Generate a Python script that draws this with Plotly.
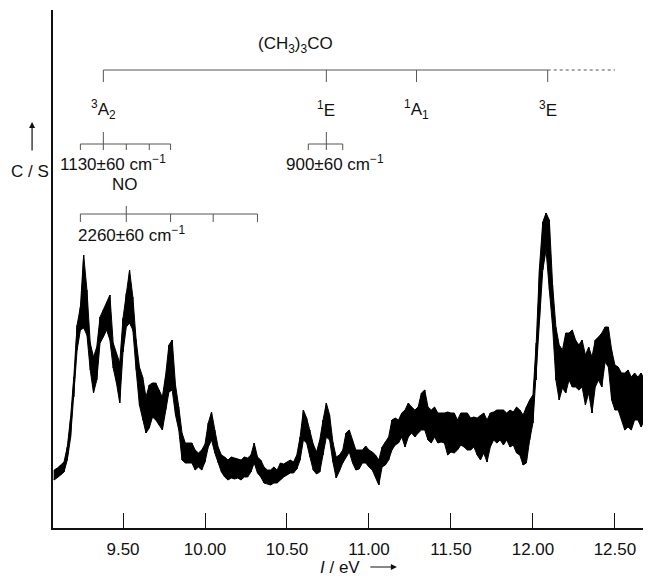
import plotly.graph_objects as go

# photoelectron spectrum (arbitrary count units)
ENERGY_EV = [
    9.08, 9.10, 9.12, 9.14, 9.16, 9.18, 9.20, 9.22, 9.24, 9.26,
    9.28, 9.30, 9.32, 9.34, 9.36, 9.38, 9.40, 9.42, 9.44, 9.46,
    9.48, 9.50, 9.52, 9.54, 9.56, 9.58, 9.60, 9.62, 9.64, 9.66,
    9.68, 9.70, 9.72, 9.74, 9.76, 9.78, 9.80, 9.82, 9.84, 9.86,
    9.88, 9.90, 9.92, 9.94, 9.96, 9.98, 10.00, 10.02, 10.04, 10.06,
    10.08, 10.10, 10.12, 10.14, 10.16, 10.18, 10.20, 10.22, 10.24, 10.26,
    10.28, 10.30, 10.32, 10.34, 10.36, 10.38, 10.40, 10.42, 10.44, 10.46,
    10.48, 10.50, 10.52, 10.54, 10.56, 10.58, 10.60, 10.62, 10.64, 10.66,
    10.68, 10.70, 10.72, 10.74, 10.76, 10.78, 10.80, 10.82, 10.84, 10.86,
    10.88, 10.90, 10.92, 10.94, 10.96, 10.98, 11.00, 11.02, 11.04, 11.06,
    11.08, 11.10, 11.12, 11.14, 11.16, 11.18, 11.20, 11.22, 11.24, 11.26,
    11.28, 11.30, 11.32, 11.34, 11.36, 11.38, 11.40, 11.42, 11.44, 11.46,
    11.48, 11.50, 11.52, 11.54, 11.56, 11.58, 11.60, 11.62, 11.64, 11.66,
    11.68, 11.70, 11.72, 11.74, 11.76, 11.78, 11.80, 11.82, 11.84, 11.86,
    11.88, 11.90, 11.92, 11.94, 11.96, 11.98, 12.00, 12.02, 12.04, 12.06,
    12.08, 12.10, 12.12, 12.14, 12.16, 12.18, 12.20, 12.22, 12.24, 12.26,
    12.28, 12.30, 12.32, 12.34, 12.36, 12.38, 12.40, 12.42, 12.44, 12.46,
    12.48, 12.50, 12.52, 12.54, 12.56, 12.58, 12.60, 12.62, 12.64, 12.66,
    12.68, 12.70, 12.72,
]
# top and bottom of the noise band at each energy
COUNTS_HIGH = [
    58, 60, 63, 66, 81, 110, 151, 203, 221, 273,
    238, 185, 171, 181, 211, 218, 225, 233, 185, 175,
    165, 210, 235, 258, 231, 188, 161, 151, 131, 143,
    145, 145, 138, 131, 153, 183, 188, 143, 121, 95,
    85, 85, 85, 78, 75, 78, 84, 105, 116, 98,
    81, 73, 71, 68, 71, 70, 69, 68, 71, 70,
    73, 85, 71, 68, 61, 58, 58, 61, 58, 65,
    64, 66, 68, 66, 73, 91, 118, 110, 98, 84,
    76, 88, 108, 125, 113, 86, 71, 73, 78, 95,
    98, 88, 78, 78, 78, 82, 78, 76, 73, 68,
    81, 86, 91, 108, 110, 108, 115, 118, 125, 121,
    118, 121, 135, 138, 121, 118, 121, 115, 115, 115,
    116, 115, 115, 108, 115, 115, 115, 110, 111, 110,
    113, 115, 108, 115, 116, 118, 118, 118, 115, 118,
    116, 121, 118, 113, 121, 128, 133, 185, 261, 306,
    315, 308, 243, 201, 183, 178, 195, 195, 198, 188,
    183, 188, 173, 181, 171, 188, 191, 195, 201, 201,
    178, 163, 161, 155, 155, 158, 151, 155, 151, 155,
    148, 151, 155,
]
COUNTS_LOW = [
    48, 50, 53, 56, 68, 90, 131, 178, 198, 200,
    193, 158, 135, 148, 185, 191, 198, 188, 160, 145,
    125, 176, 201, 205, 198, 158, 123, 108, 95, 100,
    111, 108, 103, 98, 118, 136, 138, 113, 98, 68,
    65, 65, 65, 58, 61, 58, 66, 81, 88, 75,
    65, 56, 51, 48, 50, 49, 50, 48, 51, 51,
    56, 65, 55, 51, 45, 44, 43, 45, 45, 48,
    51, 53, 55, 55, 59, 68, 88, 85, 71, 58,
    54, 56, 73, 91, 88, 66, 50, 57, 65, 71,
    76, 65, 58, 59, 65, 65, 61, 58, 51, 43,
    61, 63, 68, 78, 83, 85, 91, 81, 91, 95,
    91, 95, 98, 98, 88, 85, 91, 85, 86, 85,
    73, 76, 75, 78, 83, 81, 78, 78, 81, 73,
    68, 75, 66, 81, 88, 85, 88, 83, 88, 81,
    83, 75, 73, 63, 65, 88, 105, 148, 208, 258,
    278, 238, 201, 148, 128, 140, 135, 148, 141, 141,
    138, 141, 123, 135, 115, 141, 148, 141, 166, 161,
    128, 118, 118, 108, 98, 101, 98, 108, 108, 101,
    108, 108, 111,
]

TICK_EV = [9.5, 10.0, 10.5, 11.0, 11.5, 12.0, 12.5]
TICK_TEXT = ["9.50", "10.00", "10.50", "11.00", "11.50", "12.00", "12.50"]

# (CH3)3CO+ states
STATE_EV = [9.38, 10.74, 11.29, 12.09]
STATE_LABELS = ["<sup>3</sup>A<sub>2</sub>", "<sup>1</sup>E",
                "<sup>1</sup>A<sub>1</sub>", "<sup>3</sup>E"]
STATE_END_EV = 12.50

# vibrational progressions
PROG_1130_EV = [9.24, 9.38, 9.52, 9.66, 9.79]
PROG_900_EV = [10.63, 10.74, 10.84]
PROG_NO_EV = [9.24, 9.52, 9.79, 10.05, 10.32]

FONT = "Liberation Sans, Arial, sans-serif"
INK = "#111111"
GREY = "#555555"
LABEL_SIZE = 17

fig = go.Figure()

# solid noise band, then a zigzag over it for the jagged edge
fig.add_trace(go.Scatter(x=ENERGY_EV + ENERGY_EV[::-1],
                         y=COUNTS_HIGH + COUNTS_LOW[::-1],
                         mode="lines", fill="toself", fillcolor="black",
                         line=dict(color="black", width=1),
                         showlegend=False, hoverinfo="skip"))
xs, ys = [], []
for e, hi, lo in zip(ENERGY_EV, COUNTS_HIGH, COUNTS_LOW):
    xs += [e, e]
    ys += [hi, lo]
fig.add_trace(go.Scatter(x=xs, y=ys, mode="lines",
                         line=dict(color="black", width=1),
                         showlegend=False, hoverinfo="skip"))


def hline(x0, x1, y, dash="solid"):
    fig.add_shape(type="line", x0=x0, x1=x1, y0=y, y1=y, xref="x", yref="y",
                  line=dict(color=GREY, width=1, dash=dash))


def vline(x, y0, y1):
    fig.add_shape(type="line", x0=x, x1=x, y0=y0, y1=y1, xref="x", yref="y",
                  line=dict(color=GREY, width=1))


def label(x, y, text, anchor="center", size=LABEL_SIZE):
    fig.add_annotation(x=x, y=y, text=text, showarrow=False, xref="x", yref="y",
                       xanchor=anchor, yanchor="middle",
                       font=dict(family=FONT, size=size, color=INK))


# radical bracket
hline(STATE_EV[0], STATE_EV[-1], 458)
hline(STATE_EV[-1], STATE_END_EV, 458, dash="dot")
for e, t in zip(STATE_EV, STATE_LABELS):
    vline(e, 458, 446)
    label(e, 419, t)
label(10.55, 483, "(CH<sub>3</sub>)<sub>3</sub>CO")

# 1130 cm-1 progression
hline(PROG_1130_EV[0], PROG_1130_EV[-1], 384)
for i, e in enumerate(PROG_1130_EV):
    vline(e, 378, 396 if i == 1 else 384)
label(9.44, 365, "1130±60 cm<sup>−1</sup>")

# 900 cm-1 progression
hline(PROG_900_EV[0], PROG_900_EV[-1], 384)
for i, e in enumerate(PROG_900_EV):
    vline(e, 378, 396 if i == 1 else 384)
label(10.79, 365, "900±60 cm<sup>−1</sup>")

# NO progression
label(9.51, 344, "NO")
hline(PROG_NO_EV[0], PROG_NO_EV[-1], 314)
for i, e in enumerate(PROG_NO_EV):
    vline(e, 306, 322 if i == 1 else 314)
label(9.55, 294, "2260±60 cm<sup>−1</sup>")

# axis titles with arrows
fig.add_annotation(x=10.957, y=-0.0753, xref="x", yref="paper",
                   text="<i>I</i> / eV", showarrow=False,
                   xanchor="right", yanchor="middle",
                   font=dict(family=FONT, size=LABEL_SIZE, color=INK))
fig.add_annotation(x=11.17, y=-0.0753, xref="x", yref="paper", ax=-28, ay=0,
                   text="", showarrow=True, arrowhead=2, arrowsize=1,
                   arrowwidth=1.2, arrowcolor=INK)
fig.add_annotation(x=-0.038, y=357, xref="paper", yref="y", text="C / S",
                   xanchor="center", yanchor="middle", showarrow=False,
                   font=dict(family=FONT, size=LABEL_SIZE, color=INK))
fig.add_annotation(x=-0.035, y=406, xref="paper", yref="y", ax=0, ay=30,
                   text="", showarrow=True, arrowhead=2, arrowsize=1,
                   arrowwidth=1.2, arrowcolor=INK)

fig.update_xaxes(range=[9.073, 12.72], tickvals=TICK_EV, ticktext=TICK_TEXT,
                 ticks="inside", ticklen=15, tickwidth=1, tickcolor=INK,
                 showline=True, linecolor=INK, linewidth=1.5,
                 showgrid=False, zeroline=False, ticklabelstandoff=5,
                 tickfont=dict(family=FONT, size=17, color=INK))
fig.update_yaxes(range=[0, 518], showticklabels=False, ticks="",
                 showline=True, linecolor=INK, linewidth=1.5,
                 showgrid=False, zeroline=False)

# the page body adds an 8px margin, so the figure is 8px smaller and the
# plot area is pulled up/left by the same amount
fig.update_layout(width=643, height=569,
                  margin=dict(l=45, r=0, t=2, b=49),
                  plot_bgcolor="white", paper_bgcolor="white",
                  font=dict(family=FONT, color=INK))

fig.write_html("out.html")
